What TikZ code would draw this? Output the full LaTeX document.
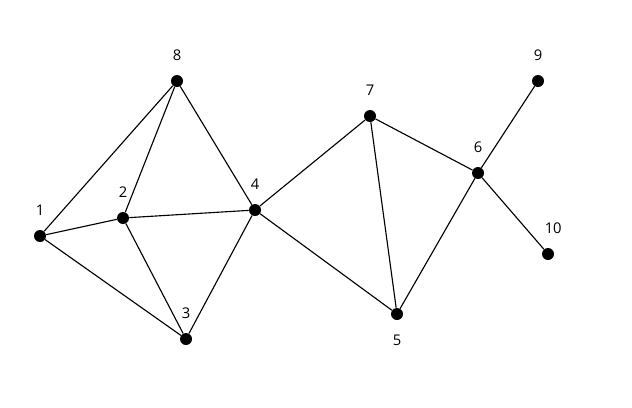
\documentclass[tikz,border=0pt]{standalone}
\usepackage{fontspec}
\setmainfont{Open Sans}
\usetikzlibrary{positioning}
\tikzset{
  vertex/.style = {circle, fill = black, inner sep = 0pt, minimum size = 0.3cm},
  num/.style    = {inner sep = 0pt, font = \fontsize{10.5}{12}\selectfont},
  edge/.style   = {line width = 0.8pt, black}
}

\begin{document}
\begin{tikzpicture}[x=0.025cm, y=-0.025cm]
\useasboundingbox (0, 0) rectangle (632, 408);
% vertices
\node[vertex] (v1) at (40, 236) {};
\node[vertex] (v2) at (123, 218) {};
\node[vertex] (v3) at (186, 339) {};
\node[vertex] (v4) at (255, 210) {};
\node[vertex] (v5) at (397, 314) {};
\node[vertex] (v6) at (478, 173) {};
\node[vertex] (v7) at (370, 116) {};
\node[vertex] (v8) at (177, 81) {};
\node[vertex] (v9) at (538, 81) {};
\node[vertex] (v10) at (548, 254) {};

% labels
\foreach \v in {1, 2, 3, 4, 6, 7, 8, 9} {
    \node[num, above=0.34cm of v\v] (l\v) {\v};
}
\node[num, below=0.36cm of v5] (l5) {5};
\node[num, above=0.34cm of v10, xshift=0.13cm] (l10) {10};

% edges
\foreach \a/\b in {1/8, 1/2, 1/3, 2/8, 2/4, 2/3, 8/4, 3/4, 4/7, 4/5, 7/5, 7/6, 5/6, 6/9, 6/10} {
    \draw[edge] (v\a) -- (v\b);
}
\end{tikzpicture}
\end{document}
